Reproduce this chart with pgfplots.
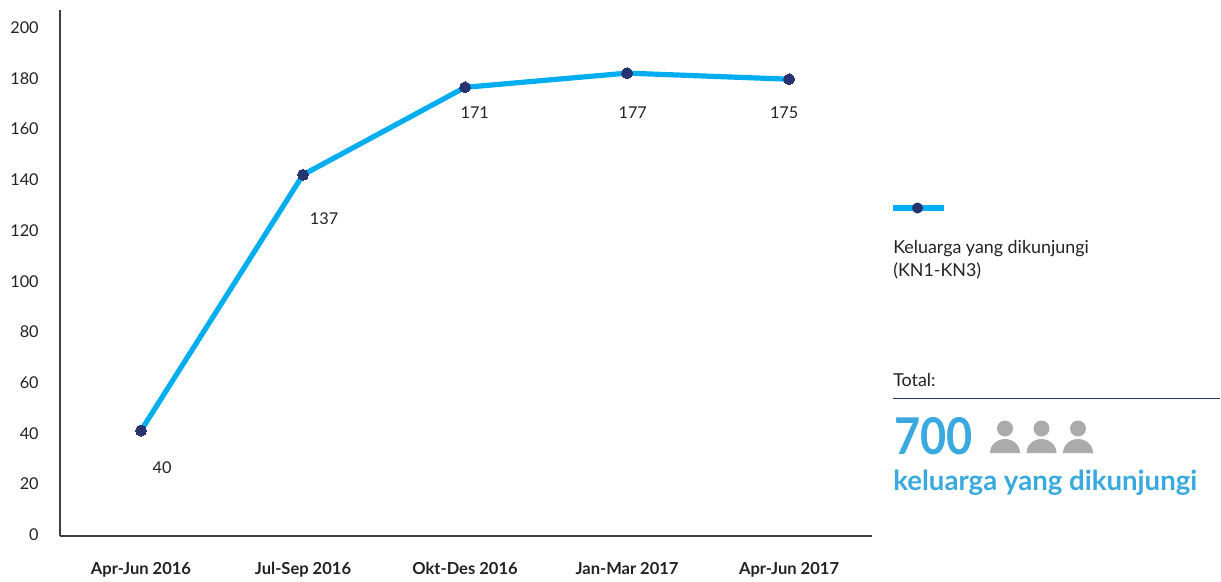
\documentclass[border=0pt]{standalone}
\usepackage{fontspec}
\setmainfont{Lato}
\usepackage{pgfplots}
\pgfplotsset{compat=1.18}
\definecolor{linecol}{HTML}{00AEEF}
\definecolor{markcol}{HTML}{283371}
\definecolor{bigblue}{HTML}{39A9E0}
\definecolor{icongray}{HTML}{ABABAB}
\definecolor{axiscol}{HTML}{404040}
\definecolor{txt}{HTML}{222222}
\newcommand{\smalltxt}{\fontsize{13.4pt}{15pt}\selectfont}
\newcommand{\numtxt}{\fontsize{12.2pt}{14pt}\selectfont}
\begin{document}
\begin{tikzpicture}
  \begin{axis}[
    at={(45pt,-402pt)}, anchor=south west,
    scale only axis,
    width=609pt, height=394.5pt,
    axis lines=left,
    axis line style={-, line width=1.1pt, color=axiscol},
    xmin=-0.5, xmax=4.512,
    ymin=0, ymax=207.5,
    xtick={0,1,2,3,4},
    xticklabels={Apr-Jun 2016,Jul-Sep 2016,Okt-Des 2016,Jan-Mar 2017,Apr-Jun 2017},
    ytick={0,20,...,200},
    major tick length=0pt,
    /pgf/number format/assume math mode=true,
    tick label style={font=\numtxt, text=txt},
    xticklabel style={font=\fontsize{12.4pt}{15pt}\selectfont\bfseries, yshift=-16pt},
    yticklabel style={xshift=-12.5pt, yshift=1pt},
    clip=false,
  ]
    \addplot[linecol, line width=3.9pt, mark=*, mark size=4.1pt,
      mark options={fill=markcol, draw=markcol, line width=0pt}]
      coordinates {(0,41.6) (1,142.5) (2,177) (3,182.6) (4,180.2)};
    \node[text=txt, font=\numtxt] at (axis cs:0.13,27) {40};
    \node[text=txt, font=\numtxt] at (axis cs:1.13,125) {137};
    \node[text=txt, font=\numtxt] at (axis cs:2.06,167) {171};
    \node[text=txt, font=\numtxt] at (axis cs:3.035,167) {177};
    \node[text=txt, font=\numtxt] at (axis cs:3.97,167) {175};
  \end{axis}
  % everything beside the axis, in reference pixels (y down)
  \begin{scope}[x=0.75pt,y=-0.75pt]
    \path[use as bounding box] (0,0) rectangle (1221,578);
    % legend
    \draw[linecol, line width=3.9pt] (893,208) -- (944,208);
    \fill[markcol] (917.5,208) circle[radius=5.5];
    \node[anchor=base west, inner sep=0pt, text=txt, font=\smalltxt] at (893,253) {Keluarga yang dikunjungi};
    \node[anchor=base west, inner sep=0pt, text=txt, font=\smalltxt] at (893,276) {(KN1-KN3)};
    % total block
    \node[anchor=base west, inner sep=0pt, text=txt, font=\smalltxt] at (893,386) {Total:};
    \draw[markcol, line width=0.8pt] (893,398.5) -- (1220,398.5);
    \node[anchor=base west, inner sep=0pt, text=bigblue, xscale=0.89, font=\fontsize{38pt}{40pt}\selectfont\bfseries] at (894,454) {700};
    \node[anchor=base west, inner sep=0pt, text=bigblue, font=\fontsize{20.7pt}{22pt}\selectfont\bfseries] at (893,490) {keluarga yang dikunjungi};
    \foreach \cx in {1005,1041.5,1078}{
      \fill[icongray] (\cx,428.5) circle[radius=8];
      \fill[icongray] (\cx-15,453) arc[start angle=180, end angle=0, x radius=15, y radius=-14] -- cycle;
    }
  \end{scope}
\end{tikzpicture}
\end{document}
